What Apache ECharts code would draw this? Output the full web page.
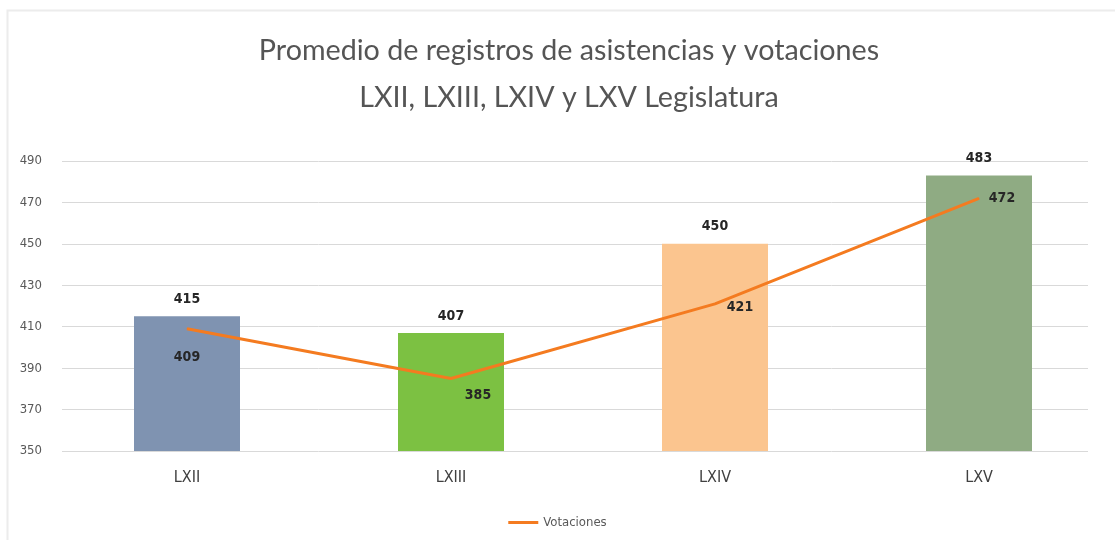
<!DOCTYPE html>
<html><head><meta charset="utf-8">
<script src="https://cdn.jsdelivr.net/npm/echarts@6/dist/echarts.min.js"></script>
<style>html,body{margin:0;padding:0;background:#fff}#c{width:1115px;height:540px}</style>
</head><body><div id="c"></div>
<script>
const categories = ['LXII', 'LXIII', 'LXIV', 'LXV'];
const asistencias = [415, 407, 450, 483];
const votaciones = [409, 385, 421, 472];
const barColors = ['#7f93b1', '#7cc142', '#fbc58f', '#8fab83'];
const yTicks = {min: 350, max: 490, interval: 20};
const titleLines = ['Promedio de registros de asistencias y votaciones', 'LXII, LXIII, LXIV y LXV Legislatura'];

const narrow = '"Liberation Sans Narrow", "DejaVu Sans Condensed", "Roboto", sans-serif';
const lineLabelOffsets = [[0, 29], [27, 17], [25, 3], [23, 0]];

const chart = echarts.init(document.getElementById('c'));
chart.setOption({
  animation: false,
  title: {
    text: titleLines.join('\n'),
    left: 564, top: 22, textAlign: 'center',
    textStyle: {fontFamily: 'Lato', fontSize: 28.7, fontWeight: 'normal', color: '#555555', lineHeight: 47}
  },
  legend: {
    bottom: 6, left: 'center',
    data: ['Votaciones'],
    itemWidth: 30, itemHeight: 3, icon: 'rect',
    textStyle: {fontFamily: narrow, fontSize: 13, color: '#595959'}
  },
  grid: [
    {left: 55, right: 4, top: 161, bottom: 89},
    {left: 62, right: 27, top: 161, bottom: 89}
  ],
  xAxis: [
    {type: 'category', data: categories, gridIndex: 0,
     axisLine: {show: false}, axisTick: {show: false},
     axisLabel: {fontFamily: narrow, fontSize: 16, color: '#404040', margin: 19}},
    {type: 'category', data: categories, gridIndex: 1, show: false}
  ],
  yAxis: [
    {type: 'value', gridIndex: 0, min: yTicks.min, max: yTicks.max, interval: yTicks.interval,
     show: false, splitLine: {show: false}},
    {type: 'value', gridIndex: 1, min: yTicks.min, max: yTicks.max, interval: yTicks.interval,
     axisLine: {show: false}, axisTick: {show: false},
     axisLabel: {fontFamily: narrow, fontSize: 13, color: '#595959', margin: 20},
     splitLine: {lineStyle: {color: '#d9d9d9', width: 1}}}
  ],
  series: [
    {
      name: 'Asistencias', type: 'bar', xAxisIndex: 0, yAxisIndex: 0,
      barWidth: 106,
      data: asistencias.map((v, i) => ({value: v, itemStyle: {color: barColors[i]}})),
      label: {show: true, position: 'top', distance: 10, fontFamily: narrow, fontSize: 14,
              fontWeight: 'bold', color: '#262626'},
      z: 2
    },
    {
      name: 'Votaciones', type: 'line', xAxisIndex: 0, yAxisIndex: 0,
      data: votaciones.map((v, i) => ({value: v, label: {offset: lineLabelOffsets[i]}})),
      symbol: 'circle', symbolSize: 1, showSymbol: true,
      lineStyle: {color: '#f47b20', width: 3},
      itemStyle: {color: '#f47b20'},
      label: {show: true, position: 'inside', fontFamily: narrow, fontSize: 14,
              fontWeight: 'bold', color: '#262626'},
      z: 3
    }
  ],
  graphic: [
    {type: 'rect', shape: {x: 7.5, y: 10.5, width: 1200, height: 600},
     style: {fill: 'none', stroke: '#ececec', lineWidth: 2}, silent: true}
  ]
});
</script></body></html>
